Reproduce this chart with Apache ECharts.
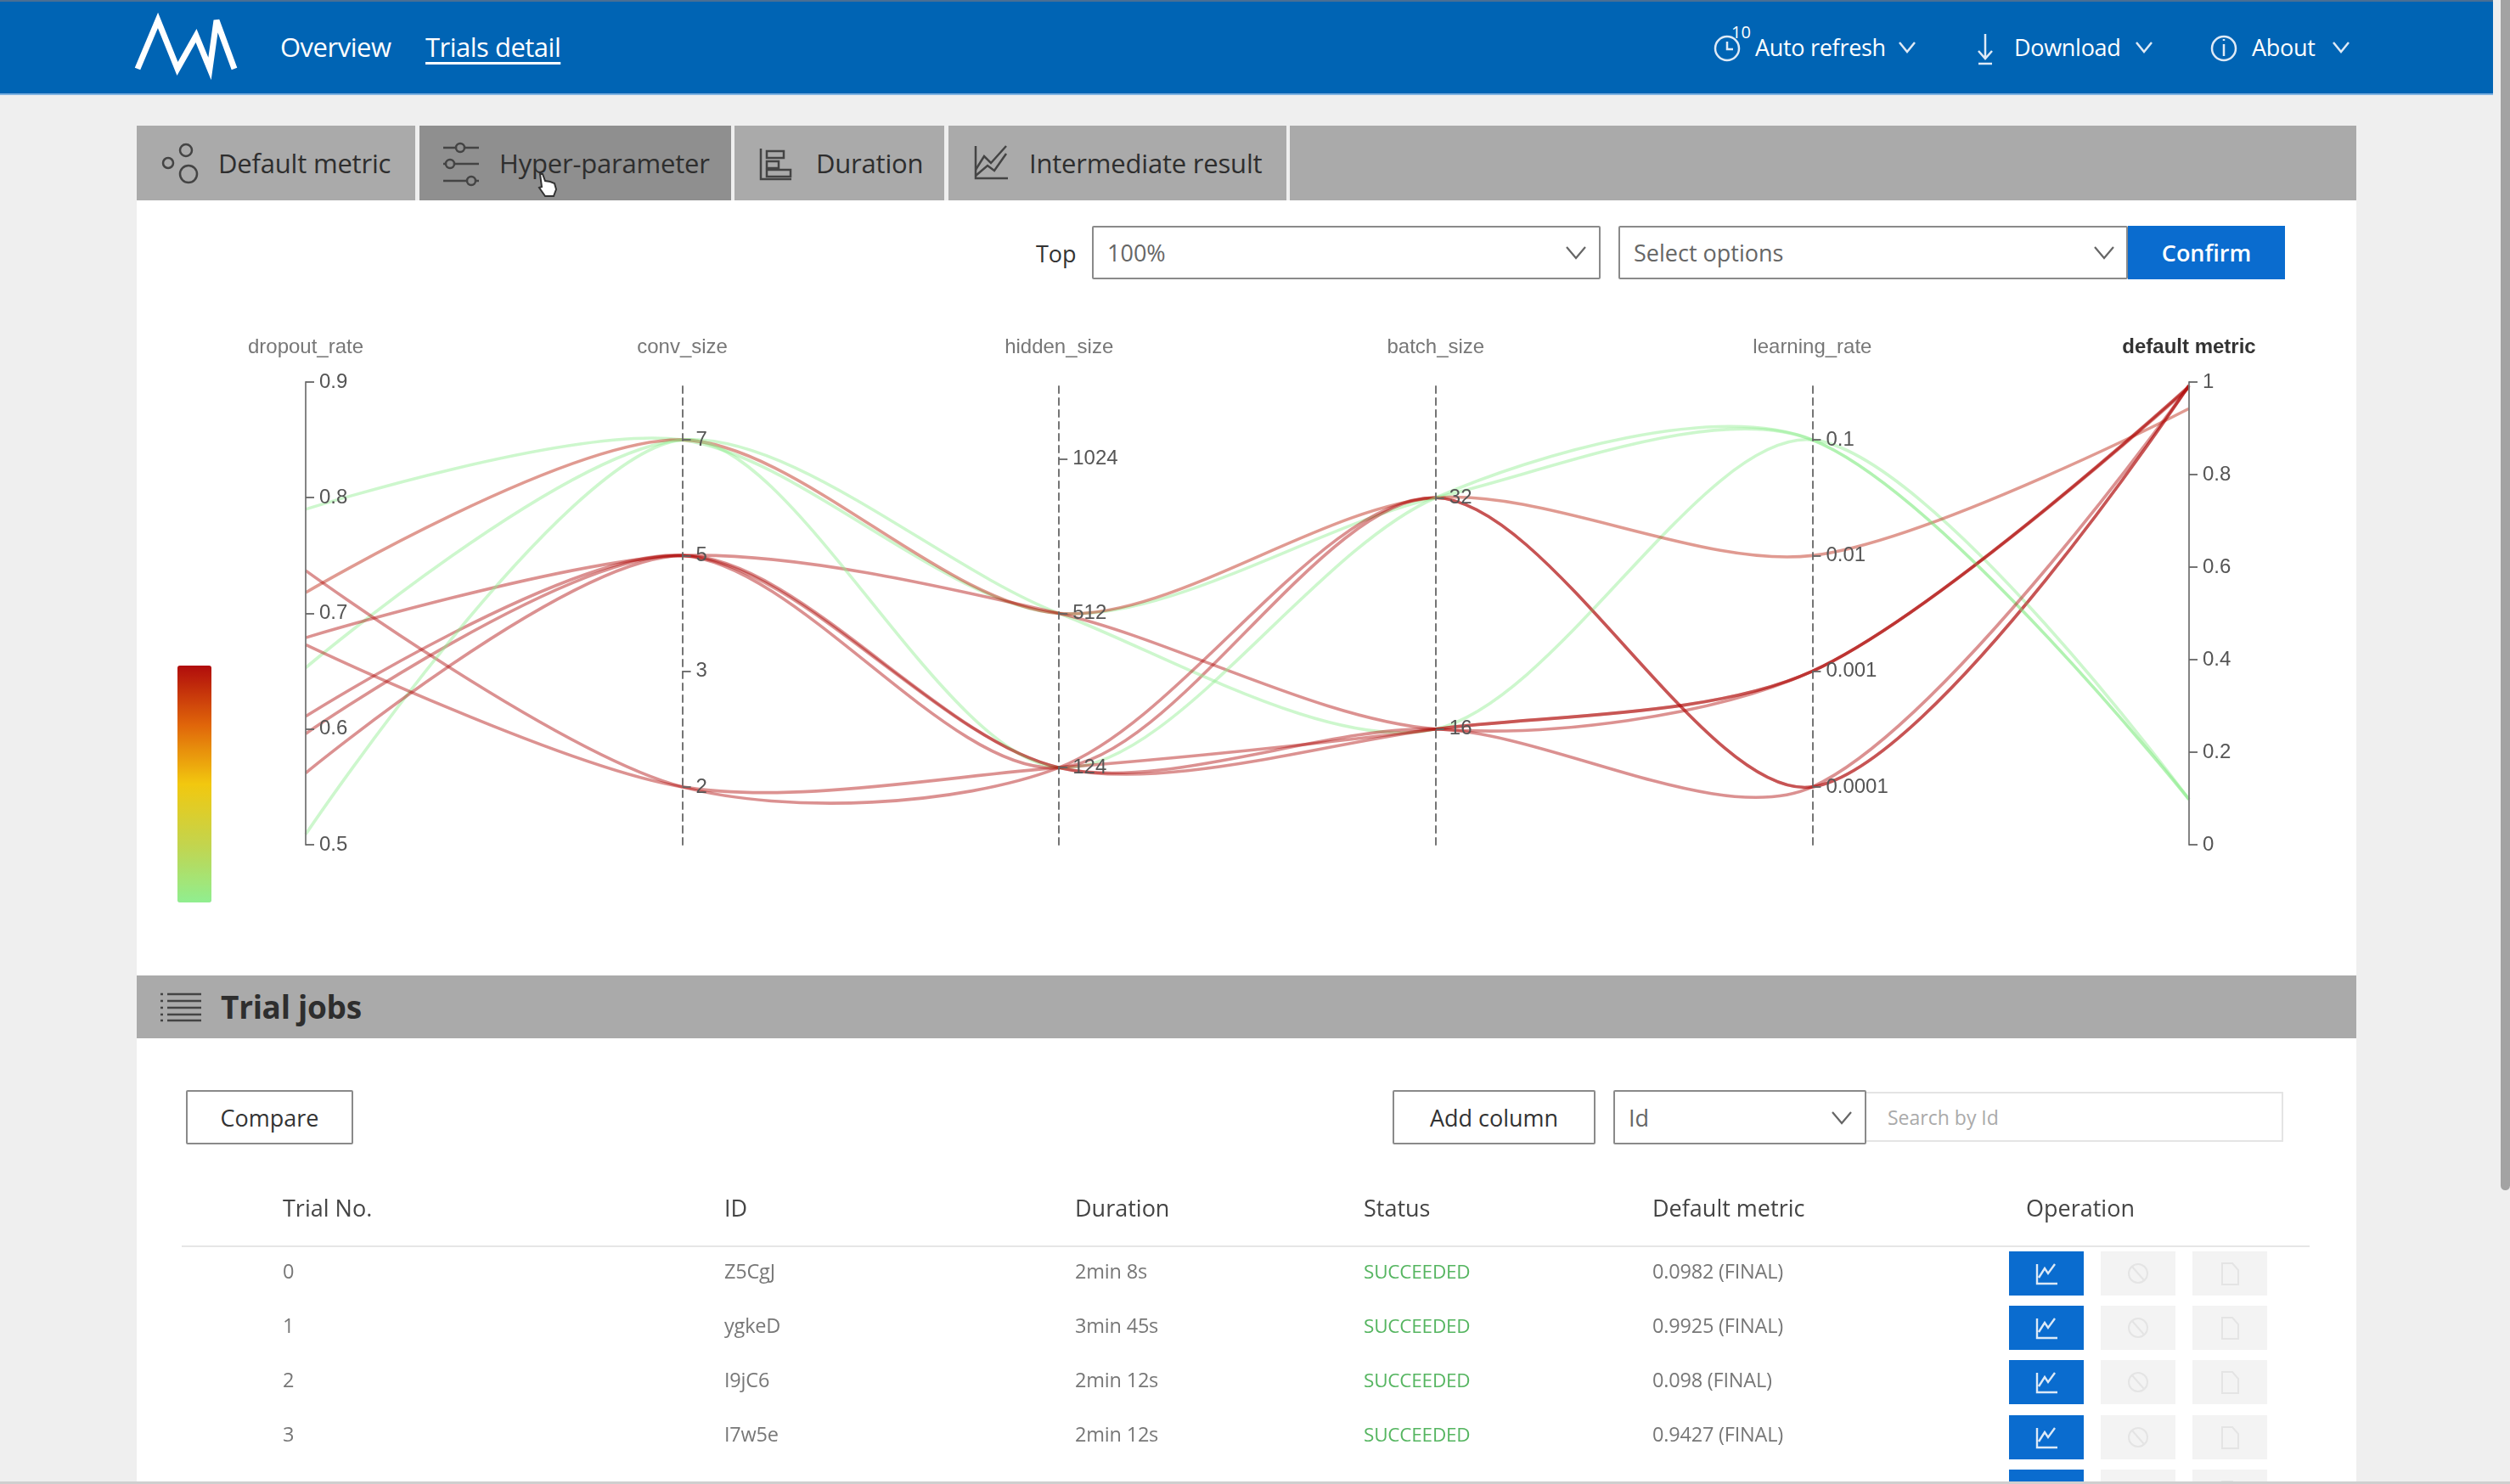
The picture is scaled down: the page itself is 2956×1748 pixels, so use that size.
<!DOCTYPE html>
<html>
<head>
<meta charset="utf-8">
<title>Trials detail</title>
<script src="https://cdn.jsdelivr.net/npm/echarts@6/dist/echarts.min.js"></script>
<style>
html, body { margin: 0; padding: 0; width: 2956px; height: 1748px; overflow: hidden; background: #efefef; font-family: "Open Sans", sans-serif; }
.abs { position: absolute; box-sizing: border-box; white-space: nowrap; }
.mid { display: flex; align-items: center; }
svg { position: absolute; overflow: visible; }
#topbar { left: 0; top: 0; width: 2936px; height: 112px; background: #0064b4; border-top: 2px solid #4a6f93; border-bottom: 2px solid #7fb2e0; }
.nav { color: #fff; font-size: 31px; height: 50px; top: 30px; letter-spacing: -0.5px; }
.nav2 { color: #fff; font-size: 27px; height: 50px; top: 30px; letter-spacing: -0.3px; }
#panel { left: 161px; top: 236px; width: 2614px; height: 1512px; background: #fff; }
.grey { background: #aaaaaa; }
.tab { top: 148px; height: 88px; background: #aaaaaa; color: #2e2e2e; font-size: 31px; letter-spacing: -0.2px; }
.select { top: 266px; height: 63px; border: 2px solid #8a8a8a; border-radius: 2px; background: #fff; color: #666; font-size: 27px; padding-left: 16px; }
.btn { background: #fff; border: 2px solid #8a8a8a; border-radius: 2px; color: #333; font-size: 27px; justify-content: center; }
.th { top: 1402px; height: 40px; font-size: 27px; color: #444; }
.td { height: 40px; font-size: 23.5px; color: #777; letter-spacing: -0.2px; }
#clip { left: 0; top: 0; width: 2956px; height: 1745px; overflow: hidden; }
#chart { position: absolute; left: 161px; top: 370px; width: 2614px; height: 770px; }
</style>
</head>
<body>
<div class="abs" id="panel"></div>

<!-- top bar -->
<div class="abs" id="topbar"></div>
<svg style="left:0;top:0" width="10" height="10">
  <polyline points="162,81 186,24 209,81 231,42 247,81 255,24 276,81" fill="none" stroke="#fff" stroke-width="7"/>
</svg>
<div class="abs mid nav" style="left:330px">Overview</div>
<div class="abs mid nav" style="left:501px;text-decoration:underline;text-underline-offset:6px">Trials detail</div>
<svg style="left:0;top:0" width="10" height="10" fill="none" stroke="#dfeaf6" stroke-width="2.5">
  <circle cx="2034" cy="57" r="14"/><path d="M2034 49v9h7"/>
  <path d="M2338 40v29M2330 60l8 9 8-9M2330 75h16"/><circle cx="2619" cy="57" r="14"/><path d="M2619 52v14M2619 46v2"/>
  <path d="M2237 50l9 11 9-11M2516 50l9 11 9-11M2748 50l9 11 9-11"/>
</svg>
<div class="abs" style="left:2039px;top:24px;color:#fff;font-size:20px">10</div>
<div class="abs mid nav2" style="left:2067px">Auto refresh</div>
<div class="abs mid nav2" style="left:2372px">Download</div>
<div class="abs mid nav2" style="left:2652px">About</div>

<!-- tabs -->
<div class="abs tab mid" style="left:161px;width:328px;padding-left:96px">Default metric</div>
<div class="abs tab mid" style="left:494px;width:367px;padding-left:94px;background:#8f8f8f">Hyper-parameter</div>
<div class="abs tab mid" style="left:865px;width:247px;padding-left:96px">Duration</div>
<div class="abs tab mid" style="left:1117px;width:398px;padding-left:95px">Intermediate result</div>
<div class="abs tab" style="left:1519px;width:1256px"></div>
<svg style="left:0;top:0" width="10" height="10" fill="none" stroke="#444" stroke-width="2.5">
  <circle cx="198" cy="192" r="6"/><circle cx="219" cy="177" r="7"/><circle cx="222" cy="205" r="10"/>
  <path d="M522 174h42M522 193h42M522 213h42"/><circle cx="542" cy="174" r="5" fill="#8f8f8f"/><circle cx="530" cy="193" r="5" fill="#8f8f8f"/><circle cx="555" cy="213" r="5" fill="#8f8f8f"/>
  <path d="M896 175v36h36"/><rect x="903" y="178" width="20" height="8"/><rect x="903" y="190" width="14" height="8"/><rect x="903" y="200" width="28" height="8"/>
  <path d="M1149 172v38h38"/><path d="M1149 200l10-16 8 8 18-20M1149 207l14-12 8 6 14-20"/>
</svg>
<svg style="left:0;top:0" width="10" height="10">
  <path d="M636 205l3 0 3 8 6 1 5 2 2 7-3 8h-10l-7-10 3-1z" fill="#fff" stroke="#333" stroke-width="2"/>
</svg>

<!-- trial filter row -->
<div class="abs mid" style="left:1220px;top:278px;height:40px;color:#333;font-size:27px">Top</div>
<div class="abs select mid" style="left:1286px;width:599px">100%</div>
<div class="abs select mid" style="left:1906px;width:600px">Select options</div>
<div class="abs mid" style="left:2506px;top:266px;width:185px;height:63px;background:#0a6ccf;color:#fff;font-size:27px;font-weight:600;justify-content:center">Confirm</div>

<!-- chart -->
<div id="chart"></div>

<!-- trial jobs -->
<div class="abs grey" style="left:161px;top:1149px;width:2614px;height:74px"></div>
<svg style="left:0;top:0" width="10" height="10" stroke="#444" stroke-width="2.5">
  <path d="M197 1171h40M197 1179h40M197 1187h40M197 1195h40M197 1202h40M189 1171h3M189 1179h3M189 1187h3M189 1195h3M189 1202h3"/>
</svg>
<div class="abs mid" style="left:260px;top:1160px;height:50px;font-size:37px;font-weight:700;color:#2e2e2e;letter-spacing:-0.3px">Trial jobs</div>
<div class="abs btn mid" style="left:219px;top:1284px;width:197px;height:64px">Compare</div>
<div class="abs btn mid" style="left:1640px;top:1284px;width:239px;height:64px">Add column</div>
<div class="abs select mid" style="left:1900px;top:1284px;width:298px;height:64px">Id</div>
<div class="abs mid" style="left:2198px;top:1286px;width:491px;height:59px;border:2px solid #e4e4e4;border-left:0;color:#aaa;font-size:23px;padding-left:25px">Search by Id</div>
<svg style="left:0;top:0" width="10" height="10" fill="none" stroke="#666" stroke-width="2.2">
  <path d="M1845 291l11 13 11-13M2467 291l11 13 11-13M2158 1310l11 13 11-13"/>
</svg>

<div class="abs" style="left:214px;top:1467px;width:2506px;height:2px;background:#e6e6e6"></div>
<div id="clip" class="abs"><div id="rows"></div></div>
<div class="abs" style="left:0;top:1745px;width:2956px;height:3px;background:#cfcfcf"></div>

<!-- scrollbar -->
<div class="abs" style="left:2945px;top:0;width:11px;height:1402px;background:#a3a3a3;border-radius:0 0 6px 6px"></div>

<script>
// one entry per trial
var trialNo = ['0', '1', '2', '3', '4', '5', '6', '7', '8', '9'];
var dropoutRate = [0.79, 0.611, 0.653, 0.718, 0.596, 0.679, 0.737, 0.509, 0.673, 0.562];
var convSize = ['7', '5', '7', '7', '5', '5', '2', '7', '2', '5'];
var hiddenSize = ['512', '124', '512', '512', '124', '512', '124', '124', '124', '124'];
var batchSize = ['32', '32', '16', '32', '16', '16', '32', '32', '16', '16'];
var learningRate = ['0.1', '0.0001', '0.1', '0.01', '0.001', '0.001', '0.0001', '0.1', '0.001', '0.0001'];
var defaultMetric = [0.0982, 0.9925, 0.098, 0.9427, 0.991, 0.988, 0.993, 0.0974, 0.99, 0.992];

// axis categories, bottom to top
var convTicks = ['2', '3', '5', '7'];
var hiddenTicks = ['124', '512', '1024'];
var batchTicks = ['16', '32'];
var lrTicks = ['0.0001', '0.001', '0.01', '0.1'];

// table rows
var tableHeader = ['Trial No.', 'ID', 'Duration', 'Status', 'Default metric', 'Operation'];
var tableNo = ['0', '1', '2', '3', '4'];
var tableId = ['Z5CgJ', 'ygkeD', 'I9jC6', 'I7w5e', 'c4NV8'];
var tableDuration = ['2min 8s', '3min 45s', '2min 12s', '2min 12s', '2min 8s'];
var tableMetric = ['0.0982 (FINAL)', '0.9925 (FINAL)', '0.098 (FINAL)', '0.9427 (FINAL)', '0.9910 (FINAL)'];

var columnX = [333, 853, 1266, 1606, 1946, 2386];
var html = '';
tableHeader.forEach(function (t, i) {
    html += '<div class="abs th mid" style="left:' + columnX[i] + 'px">' + t + '</div>';
});
tableNo.forEach(function (no, r) {
    var y = 1477 + r * 64;
    var cells = [no, tableId[r], tableDuration[r], 'SUCCEEDED', tableMetric[r]];
    cells.forEach(function (t, i) {
        var extra = i === 3 ? 'color:#55b560;font-size:22.5px;' : '';
        html += '<div class="abs td mid" style="left:' + columnX[i] + 'px;top:' + y + 'px;' + extra + '">' + t + '</div>';
    });
    var by = 1474 + r * 64.2;
    html += '<div class="abs" style="left:2366px;top:' + by + 'px;width:88px;height:52px;background:#0a6ccf">'
        + '<svg style="left:31px;top:13px" width="28" height="28" fill="none" stroke="#dce9f7" stroke-width="2.4"><path d="M2 2v23h24M4 18l7-11 4 6 8-11"/></svg></div>';
    html += '<div class="abs" style="left:2474px;top:' + by + 'px;width:88px;height:52px;background:#f3f3f3">'
        + '<svg style="left:32px;top:12px" width="28" height="28" fill="none" stroke="#e4e4e4" stroke-width="2"><circle cx="12" cy="14" r="11"/><path d="M5 6l14 16"/></svg></div>';
    html += '<div class="abs" style="left:2582px;top:' + by + 'px;width:88px;height:52px;background:#f3f3f3">'
        + '<svg style="left:32px;top:12px" width="28" height="28" fill="none" stroke="#e4e4e4" stroke-width="2"><path d="M3 2h12l7 8v17H3z"/></svg></div>';
});
document.getElementById('rows').innerHTML = html;

var lines = trialNo.map(function (t, i) {
    return [dropoutRate[i], convSize[i], hiddenSize[i], batchSize[i], learningRate[i], defaultMetric[i]];
});

function axisCommon(dashed) {
    return {
        nameGap: 29,
        nameTextStyle: { color: '#777', fontSize: 24, fontFamily: 'Liberation Sans' },
        axisLine: { lineStyle: { color: dashed ? '#666' : '#777', width: 1.8, type: dashed ? [8, 6] : 'solid' } },
        axisTick: { length: 10, inside: true, alignWithLabel: true, lineStyle: { color: '#666', width: 1.8 } },
        axisLabel: { color: '#555', fontSize: 24, fontFamily: 'Liberation Sans', inside: true, margin: 16, padding: [3, 0, 0, 0] },
        splitLine: { show: false }
    };
}

var parallelAxis = [
    Object.assign(axisCommon(false), { dim: 0, name: 'dropout_rate', min: 0.5, max: 0.9, interval: 0.1 }),
    Object.assign(axisCommon(true), { dim: 1, name: 'conv_size', type: 'category', data: convTicks }),
    Object.assign(axisCommon(true), { dim: 2, name: 'hidden_size', type: 'category', data: hiddenTicks }),
    Object.assign(axisCommon(true), { dim: 3, name: 'batch_size', type: 'category', data: batchTicks }),
    Object.assign(axisCommon(true), { dim: 4, name: 'learning_rate', type: 'category', data: lrTicks }),
    Object.assign(axisCommon(false), { dim: 5, name: 'default metric', min: 0, max: 1, interval: 0.2 })
];
parallelAxis[5].nameTextStyle = { color: '#333', fontSize: 24, fontWeight: 'bold', fontFamily: 'Liberation Sans' };

var chart = echarts.init(document.getElementById('chart'));
chart.setOption({
    animation: false,
    parallel: { left: 199, right: 197, top: 80, height: 545 },
    parallelAxis: parallelAxis,
    visualMap: {
        type: 'continuous',
        dimension: 5,
        min: 0.098,
        max: 0.9925,
        left: 33,
        top: 399,
        itemWidth: 40,
        itemHeight: 279,
        calculable: false,
        realtime: false,
        text: [],
        inRange: { color: ['#90ee90', '#c4d44c', '#f2c80f', '#e0650a', '#b00c0c'] }
    },
    series: [
        {
            type: 'parallel',
            smooth: true,
            lineStyle: { width: 3.6, opacity: 0.45 },
            data: lines
        }
    ]
});
</script>
</body>
</html>
